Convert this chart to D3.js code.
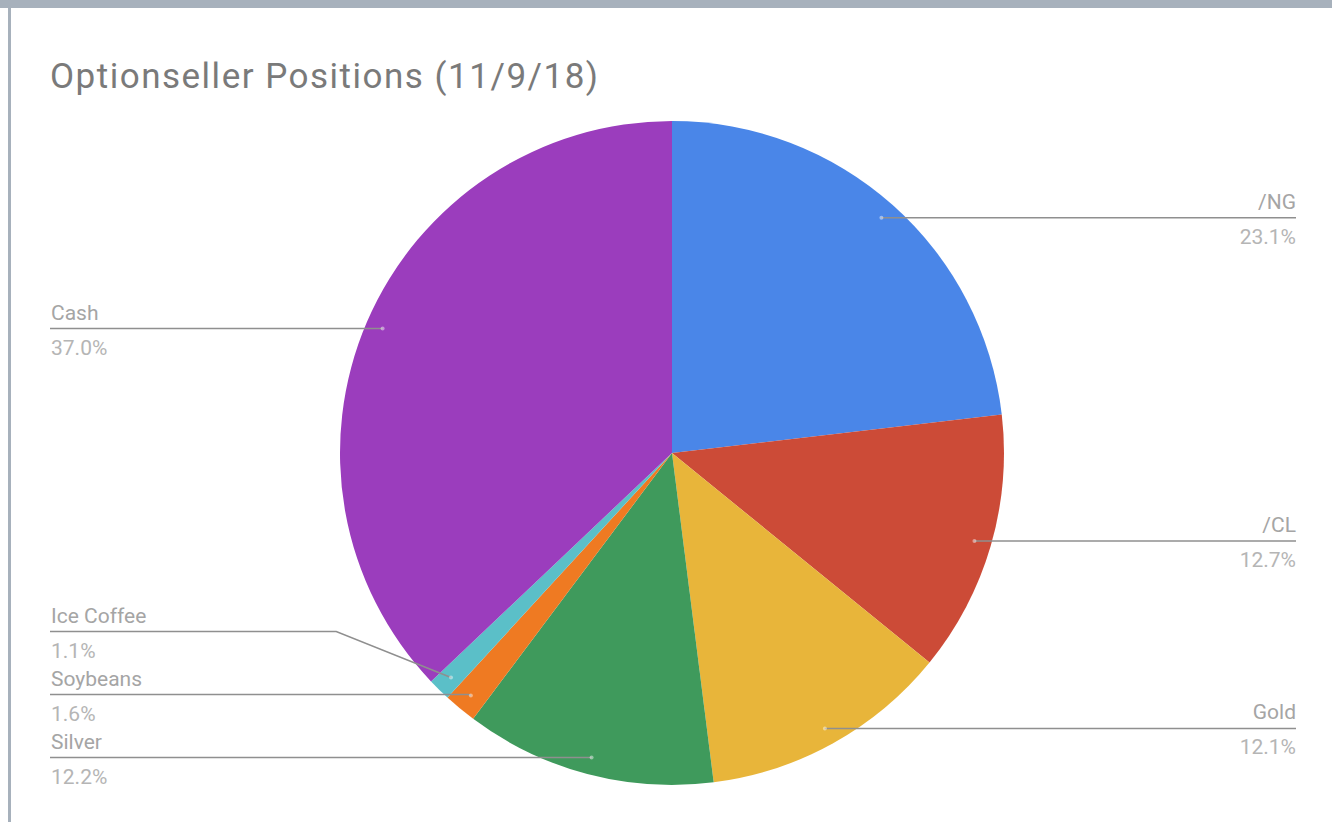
<!DOCTYPE html>
<html><head><meta charset="utf-8">
<script src="https://cdn.jsdelivr.net/npm/d3@7"></script>
<style>html,body{margin:0;padding:0;background:#fff;}svg{display:block;}</style>
</head><body>
<script>
const title = "Optionseller Positions (11/9/18)";
const categories = ["/NG", "/CL", "Gold", "Silver", "Soybeans", "Ice Coffee", "Cash"];
const values = [23.1, 12.7, 12.1, 12.2, 1.6, 1.1, 37.0];
const colors = ["#4a86e8", "#cc4b37", "#e8b53a", "#3f9a5c", "#ef7a22", "#5bbfc8", "#9b3dbd"];

const W = 1332, H = 822;
const cx = 672, cy = 453, R = 332, rDot = 315;
const svg = d3.select("body").append("svg").attr("width", W).attr("height", H);

// frame
svg.append("rect").attr("x",0).attr("y",0).attr("width",W).attr("height",8).attr("fill","#a7b1bc");
svg.append("rect").attr("x",8).attr("y",8).attr("width",3).attr("height",H-8).attr("fill","#a7b1bc");

svg.append("text").attr("x",50).attr("y",88).text(title)
  .attr("font-family","Roboto, sans-serif").attr("font-size",35).attr("letter-spacing",1.5)
  .attr("fill","#7a7a7a");

const data = categories.map((c,i)=>({name:c, value:values[i], color:colors[i]}));
const pie = d3.pie().sort(null).value(d=>d.value);
const arcs = pie(data);
const arc = d3.arc().innerRadius(0).outerRadius(R);
const dotArc = d3.arc().innerRadius(rDot).outerRadius(rDot);

const g = svg.append("g").attr("transform",`translate(${cx},${cy})`);
g.selectAll("path").data(arcs).join("path").attr("d",arc).attr("fill",d=>d.data.color);

// label layout
const fmt = d3.format(".1f");
const items = arcs.map(a=>{
  const [x,y] = dotArc.centroid(a);
  const mid = (a.startAngle+a.endAngle)/2;
  return {a, dx:cx+x, dy:cy+y, side: mid < Math.PI ? "right":"left", ly: cy+y};
});
const spacing = 63;
["left","right"].forEach(side=>{
  const s = items.filter(d=>d.side===side).sort((p,q)=>q.ly-p.ly);
  for(let i=1;i<s.length;i++){
    if(s[i-1].ly - s[i].ly < spacing) s[i].ly = s[i-1].ly - spacing;
  }
});

const lg = svg.append("g");
items.forEach(d=>{
  const left = d.side==="left";
  const xEnd = left ? 50 : 1296;
  const off = Math.abs(d.dy - d.ly);
  const kneeX = left ? d.dx - off*2.5 : d.dx + off*2.5;
  const pts = [[xEnd,d.ly],[kneeX,d.ly],[d.dx,d.dy]];
  lg.append("path").attr("d",d3.line()(pts)).attr("fill","none")
    .attr("stroke","#8f8f8f").attr("stroke-width",1.5);
  lg.append("circle").attr("cx",d.dx).attr("cy",d.dy).attr("r",2)
    .attr("fill","#fff").attr("opacity",0.45);
  const tx = left ? 51 : 1296;
  const anchor = left ? "start" : "end";
  lg.append("text").attr("x",tx).attr("y",d.ly-9).attr("text-anchor",anchor)
    .attr("font-family","Roboto, sans-serif").attr("font-size",21).attr("fill","#a5a5a5")
    .text(d.a.data.name);
  lg.append("text").attr("x",tx).attr("y",d.ly+26).attr("text-anchor",anchor)
    .attr("font-family","Roboto, sans-serif").attr("font-size",21).attr("fill","#b5b5b5")
    .text(fmt(d.a.data.value)+"%");
});
</script>
</body></html>
